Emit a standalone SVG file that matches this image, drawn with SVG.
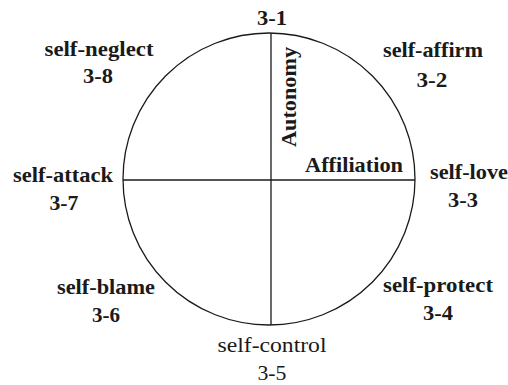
<svg xmlns="http://www.w3.org/2000/svg" width="508" height="385" viewBox="0 0 508 385">
<style>
text{font-family:"Liberation Serif","Times New Roman",serif;font-size:21.5px;font-weight:bold;fill:#1a1a1a;text-anchor:middle}
.reg{font-weight:normal}
.ln{stroke:#1a1a1a;stroke-width:1.3;fill:none}
</style>
<rect width="508" height="385" fill="#fff"/>
<g id="circle"><circle class="ln" cx="269" cy="179" r="146"/></g>
<g id="axes">
<line class="ln" x1="271" y1="33" x2="271" y2="325"/>
<line class="ln" x1="123" y1="180" x2="415" y2="180"/>
</g>
<g id="n31"><text x="272" y="25" textLength="30" lengthAdjust="spacingAndGlyphs">3-1</text></g>
<g id="n32"><text x="433" y="57" textLength="100" lengthAdjust="spacingAndGlyphs">self-affirm</text><text x="432" y="87" textLength="31" lengthAdjust="spacingAndGlyphs">3-2</text></g>
<g id="n33"><text x="469" y="179" textLength="78" lengthAdjust="spacingAndGlyphs">self-love</text><text x="463" y="207" textLength="30" lengthAdjust="spacingAndGlyphs">3-3</text></g>
<g id="n34"><text x="438" y="292" textLength="110" lengthAdjust="spacingAndGlyphs">self-protect</text><text x="438" y="320" textLength="30" lengthAdjust="spacingAndGlyphs">3-4</text></g>
<g id="n35"><text class="reg" x="272" y="352" textLength="109" lengthAdjust="spacingAndGlyphs">self-control</text><text class="reg" x="272" y="380" textLength="29" lengthAdjust="spacingAndGlyphs">3-5</text></g>
<g id="n36"><text x="106" y="294" textLength="98" lengthAdjust="spacingAndGlyphs">self-blame</text><text x="106" y="322" textLength="28" lengthAdjust="spacingAndGlyphs">3-6</text></g>
<g id="n37"><text x="63" y="182" textLength="100" lengthAdjust="spacingAndGlyphs">self-attack</text><text x="64" y="210" textLength="29" lengthAdjust="spacingAndGlyphs">3-7</text></g>
<g id="n38"><text x="99" y="56" textLength="109" lengthAdjust="spacingAndGlyphs">self-neglect</text><text x="98" y="83" textLength="30" lengthAdjust="spacingAndGlyphs">3-8</text></g>
<g id="axis-labels">
<text x="354" y="172" textLength="98" lengthAdjust="spacingAndGlyphs">Affiliation</text>
<text transform="translate(296 97) rotate(-90)" x="0" y="0" textLength="100" lengthAdjust="spacingAndGlyphs">Autonomy</text>
</g>
</svg>
